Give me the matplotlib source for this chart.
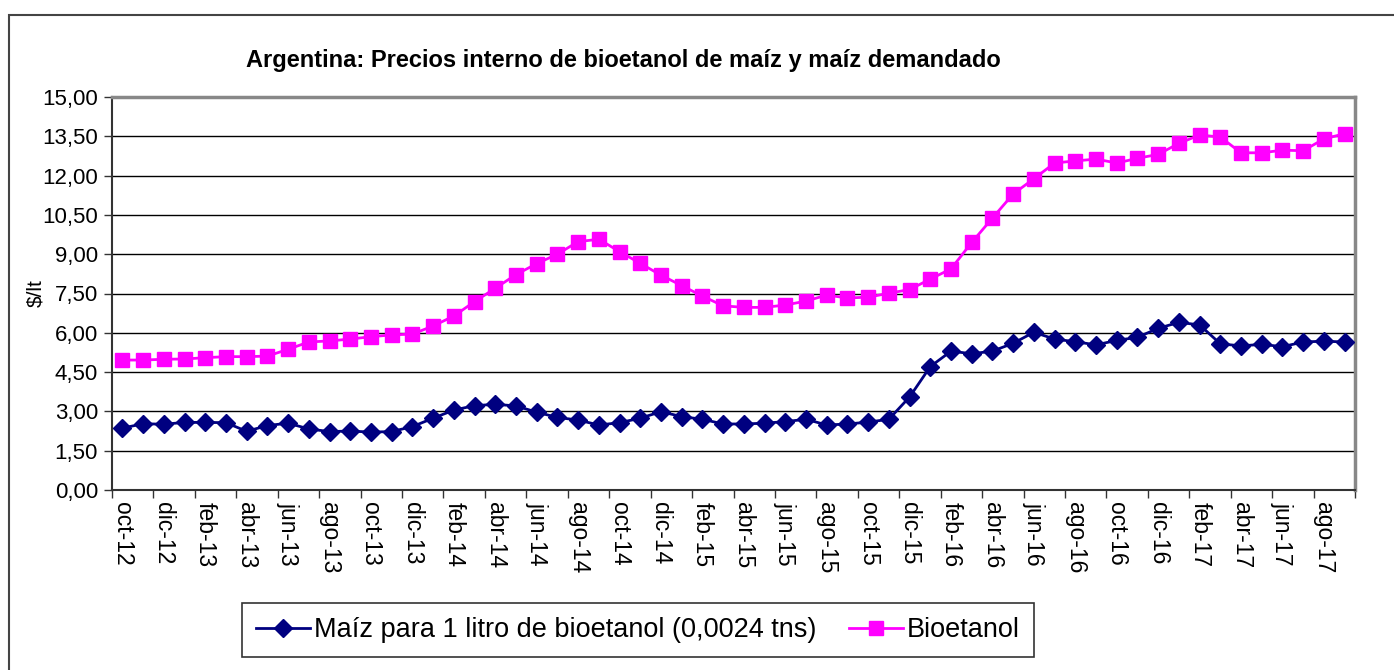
import matplotlib
matplotlib.use("Agg")
import matplotlib.pyplot as plt
from matplotlib.patches import Rectangle
from matplotlib.ticker import FixedLocator, FuncFormatter
import numpy as np

# meses oct-12 .. sep-17
meses = ["ene", "feb", "mar", "abr", "may", "jun", "jul", "ago", "sep", "oct", "nov", "dic"]
fechas = []
for k in range(60):
    m = (9 + k) % 12
    a = 12 + (9 + k) // 12
    fechas.append(f"{meses[m]}-{a}")

maiz = [2.36, 2.53, 2.51, 2.58, 2.58, 2.57, 2.24, 2.46, 2.55, 2.33,
        2.23, 2.25, 2.21, 2.23, 2.42, 2.74, 3.05, 3.22, 3.27, 3.21,
        2.97, 2.77, 2.67, 2.48, 2.57, 2.74, 2.99, 2.80, 2.70, 2.52,
        2.52, 2.55, 2.61, 2.70, 2.48, 2.52, 2.59, 2.70, 3.55, 4.71,
        5.30, 5.20, 5.30, 5.60, 6.02, 5.76, 5.66, 5.54, 5.71, 5.83,
        6.17, 6.40, 6.30, 5.58, 5.50, 5.56, 5.47, 5.65, 5.68, 5.65]

bioetanol = [4.96, 4.96, 4.99, 5.00, 5.05, 5.09, 5.09, 5.11, 5.37, 5.65,
             5.69, 5.76, 5.85, 5.92, 5.95, 6.26, 6.64, 7.19, 7.70, 8.22,
             8.64, 9.00, 9.48, 9.57, 9.10, 8.65, 8.20, 7.80, 7.40, 7.03,
             6.97, 6.97, 7.06, 7.21, 7.44, 7.33, 7.36, 7.51, 7.65, 8.05,
             8.44, 9.45, 10.38, 11.30, 11.88, 12.48, 12.56, 12.63, 12.48, 12.66,
             12.81, 13.23, 13.55, 13.47, 12.87, 12.87, 12.97, 12.95, 13.40, 13.60]

serie1 = "Maíz para 1 litro de bioetanol (0,0024 tns)"
serie2 = "Bioetanol"
titulo = "Argentina: Precios interno de bioetanol de maíz y maíz demandado"

plt.rcParams["font.family"] = ["Liberation Sans", "DejaVu Sans"]

fig = plt.figure(figsize=(13.94, 6.70), dpi=100)
fig.patches.append(Rectangle((9 / 1394, -0.1), 1.2, 1.1 - 15 / 670, transform=fig.transFigure,
                             fill=False, edgecolor="#444444", linewidth=1.5))

ax = fig.add_axes([112 / 1394, 1 - 490 / 670, (1355 - 112) / 1394, (490 - 97) / 670])
x = np.arange(len(fechas))

ax.plot(x, maiz, color="#000080", marker="D", markersize=9.5, linewidth=2,
        label=serie1, zorder=3)
ax.plot(x, bioetanol, color="#FF00FF", marker="s", markersize=10.5, linewidth=2,
        label=serie2, zorder=3)

ax.set_xlim(-0.5, len(fechas) - 0.5)
ax.set_ylim(0, 15)
yt = np.arange(0, 15.01, 1.5)
ax.set_yticks(yt)
ax.yaxis.set_major_formatter(FuncFormatter(lambda v, p: f"{v:.2f}".replace(".", ",")))
for v in yt[1:-1]:
    ax.axhline(v, color="black", linewidth=1, zorder=1)

# ticks at category borders, labels at centers
ax.xaxis.set_major_locator(FixedLocator(np.arange(-0.5, len(fechas), 2)))
ax.xaxis.set_minor_locator(FixedLocator(x[::2]))
ax.set_xticklabels([], minor=False)
ax.set_xticklabels(fechas[::2], minor=True, rotation=-90, fontsize=16.5)
ax.tick_params(axis="x", which="major", length=6, width=1, color="#333333")
ax.tick_params(axis="x", which="minor", length=0, pad=9)
ax.tick_params(axis="y", length=6, width=1, color="#333333", labelsize=16, pad=4)

for s in ["left", "bottom"]:
    ax.spines[s].set_color("#333333")
    ax.spines[s].set_linewidth(1.5)
for s in ["top", "right"]:
    ax.spines[s].set_color("#888888")
    ax.spines[s].set_linewidth(2.5)

ax.set_ylabel("$/lt", fontsize=15)
ax.yaxis.set_label_coords(-0.054, 0.5)

fig.text(623 / 1394, 1 - 60 / 670, titulo, ha="center", va="center", fontsize=17,
         fontweight="bold")

leg = fig.legend(loc="center", bbox_to_anchor=(638 / 1394, 1 - 630 / 670),
                 ncol=2, frameon=True, fancybox=False, edgecolor="black",
                 prop={"size": 19.5}, handlelength=2.0,
                 handletextpad=0.15, columnspacing=1.2, borderpad=0.5)
leg.get_frame().set_linewidth(1.2)

fig.savefig("out.png", dpi=100)
